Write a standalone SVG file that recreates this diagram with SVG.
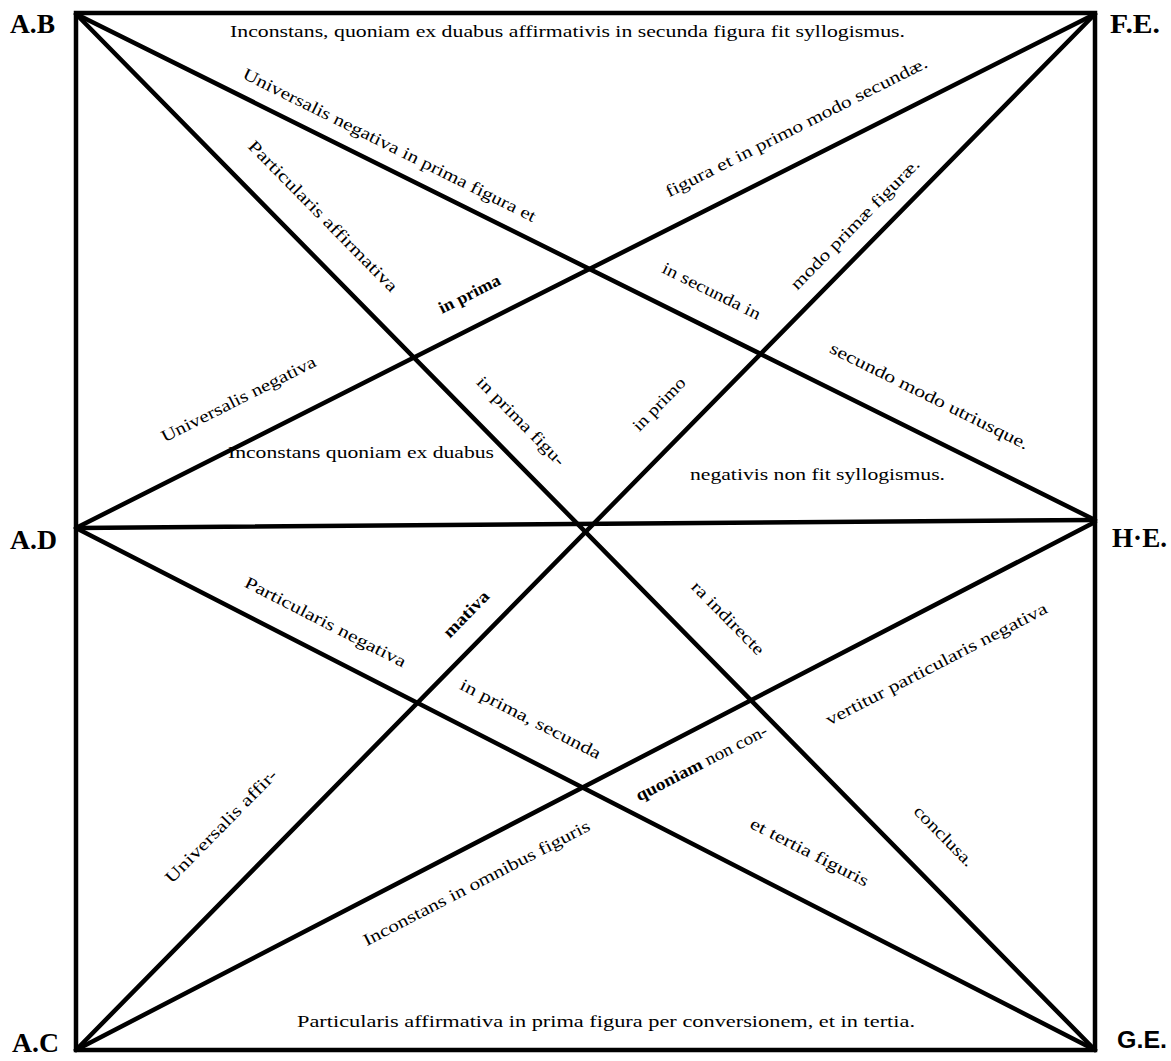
<svg xmlns="http://www.w3.org/2000/svg" width="1171" height="1061" viewBox="0 0 1171 1061">
<style>
.ln{stroke:#000;stroke-width:4.5;fill:none;stroke-linecap:round;stroke-linejoin:miter}
.t{font-family:"Liberation Serif","Times New Roman",serif;font-size:17px;fill:#000}
.b{font-weight:bold}
.lab{font-family:"Liberation Serif","Times New Roman",serif;font-size:28px;font-weight:bold;fill:#000}
.lab2{font-family:"Liberation Sans",Arial,sans-serif;font-size:24px;font-weight:bold;fill:#000}
</style>
<rect width="1171" height="1061" fill="#fff"/>
<g id="connectors">
<path class="ln" d="M76,13 H1095 V1050 H76 Z"/>
<path class="ln" d="M76,528 L1095,520"/>
<path class="ln" d="M76,14 L1095,1050"/>
<path class="ln" d="M76,1050 L1095,14"/>
<path class="ln" d="M76,14 L1095,520"/>
<path class="ln" d="M76,528 L1095,14"/>
<path class="ln" d="M76,528 L1095,1050"/>
<path class="ln" d="M76,1050 L1095,522"/>
</g>
<g id="node-AB"><text class="lab" x="10" y="33" textLength="45" lengthAdjust="spacingAndGlyphs">A.B</text></g>
<g id="node-FE"><text class="lab" x="1110" y="33" textLength="50" lengthAdjust="spacingAndGlyphs">F.E.</text></g>
<g id="node-AD"><text class="lab" x="10" y="549" textLength="47" lengthAdjust="spacingAndGlyphs">A.D</text></g>
<g id="node-HE"><text class="lab" x="1112" y="547" textLength="55" lengthAdjust="spacingAndGlyphs">H·E.</text></g>
<g id="node-AC"><text class="lab" x="12" y="1052" font-size="26" textLength="47" lengthAdjust="spacingAndGlyphs">A.C</text></g>
<g id="node-GE"><text class="lab2" x="1117" y="1048" textLength="50" lengthAdjust="spacingAndGlyphs">G.E.</text></g>
<g id="labels">
<text class="t" x="230" y="37" textLength="675" lengthAdjust="spacingAndGlyphs">Inconstans, quoniam ex duabus affirmativis in secunda figura fit syllogismus.</text>
<text class="t" text-anchor="middle" transform="translate(387,150) rotate(26.4)" textLength="325" lengthAdjust="spacingAndGlyphs">Universalis negativa in prima figura et</text>
<text class="t" text-anchor="middle" transform="translate(799,132) rotate(-26.75)" textLength="291" lengthAdjust="spacingAndGlyphs">figura et in primo modo secundæ.</text>
<text class="t" text-anchor="middle" transform="translate(319,220) rotate(45.45)" textLength="205" lengthAdjust="spacingAndGlyphs">Particularis affirmativa</text>
<text class="t b" text-anchor="middle" transform="translate(472,299) rotate(-26.75)" textLength="67" lengthAdjust="spacingAndGlyphs">in prima</text>
<text class="t" text-anchor="middle" transform="translate(709,296) rotate(26.4)" textLength="108" lengthAdjust="spacingAndGlyphs">in secunda in</text>
<text class="t" text-anchor="middle" transform="translate(859,228) rotate(-45.45)" textLength="176" lengthAdjust="spacingAndGlyphs">modo primæ figuræ.</text>
<text class="t" text-anchor="middle" transform="translate(241,404) rotate(-26.75)" textLength="171" lengthAdjust="spacingAndGlyphs">Universalis negativa</text>
<text class="t" x="228" y="458" textLength="266" lengthAdjust="spacingAndGlyphs">Inconstans quoniam ex duabus</text>
<text class="t" text-anchor="middle" transform="translate(517,425) rotate(45.45)" textLength="118" lengthAdjust="spacingAndGlyphs">in prima figu-</text>
<text class="t" text-anchor="middle" transform="translate(663,408) rotate(-45.45)" textLength="68" lengthAdjust="spacingAndGlyphs">in primo</text>
<text class="t" text-anchor="middle" transform="translate(927,401) rotate(26.4)" textLength="220" lengthAdjust="spacingAndGlyphs">secundo modo utriusque.</text>
<text class="t" x="690" y="480" textLength="255" lengthAdjust="spacingAndGlyphs">negativis non fit syllogismus.</text>
<text class="t" text-anchor="middle" transform="translate(323,627) rotate(27.1)" textLength="179" lengthAdjust="spacingAndGlyphs">Particularis negativa</text>
<text class="t b" text-anchor="middle" transform="translate(470,618) rotate(-45.45)" textLength="58" lengthAdjust="spacingAndGlyphs">mativa</text>
<text class="t" text-anchor="middle" transform="translate(724,622) rotate(45.45)" textLength="96" lengthAdjust="spacingAndGlyphs">ra indirecte</text>
<text class="t" text-anchor="middle" transform="translate(528,724) rotate(27.1)" textLength="156" lengthAdjust="spacingAndGlyphs">in prima, secunda</text>
<text class="t" text-anchor="middle" transform="translate(939,669) rotate(-27.4)" textLength="247" lengthAdjust="spacingAndGlyphs">vertitur particularis negativa</text>
<text class="t" text-anchor="middle" transform="translate(704,768) rotate(-27.4)" textLength="146" lengthAdjust="spacingAndGlyphs"><tspan class="b">quoniam</tspan> non con-</text>
<text class="t" text-anchor="middle" transform="translate(225,830) rotate(-45.45)" textLength="152" lengthAdjust="spacingAndGlyphs">Universalis affir-</text>
<text class="t" text-anchor="middle" transform="translate(479,888) rotate(-27.4)" textLength="253" lengthAdjust="spacingAndGlyphs">Inconstans in omnibus figuris</text>
<text class="t" text-anchor="middle" transform="translate(807,857) rotate(27.1)" textLength="131" lengthAdjust="spacingAndGlyphs">et tertia figuris</text>
<text class="t" text-anchor="middle" transform="translate(940,840) rotate(45.45)" textLength="78" lengthAdjust="spacingAndGlyphs">conclusa.</text>
<text class="t" x="297" y="1027" textLength="618" lengthAdjust="spacingAndGlyphs">Particularis affirmativa in prima figura per conversionem, et in tertia.</text>
</g>
</svg>
